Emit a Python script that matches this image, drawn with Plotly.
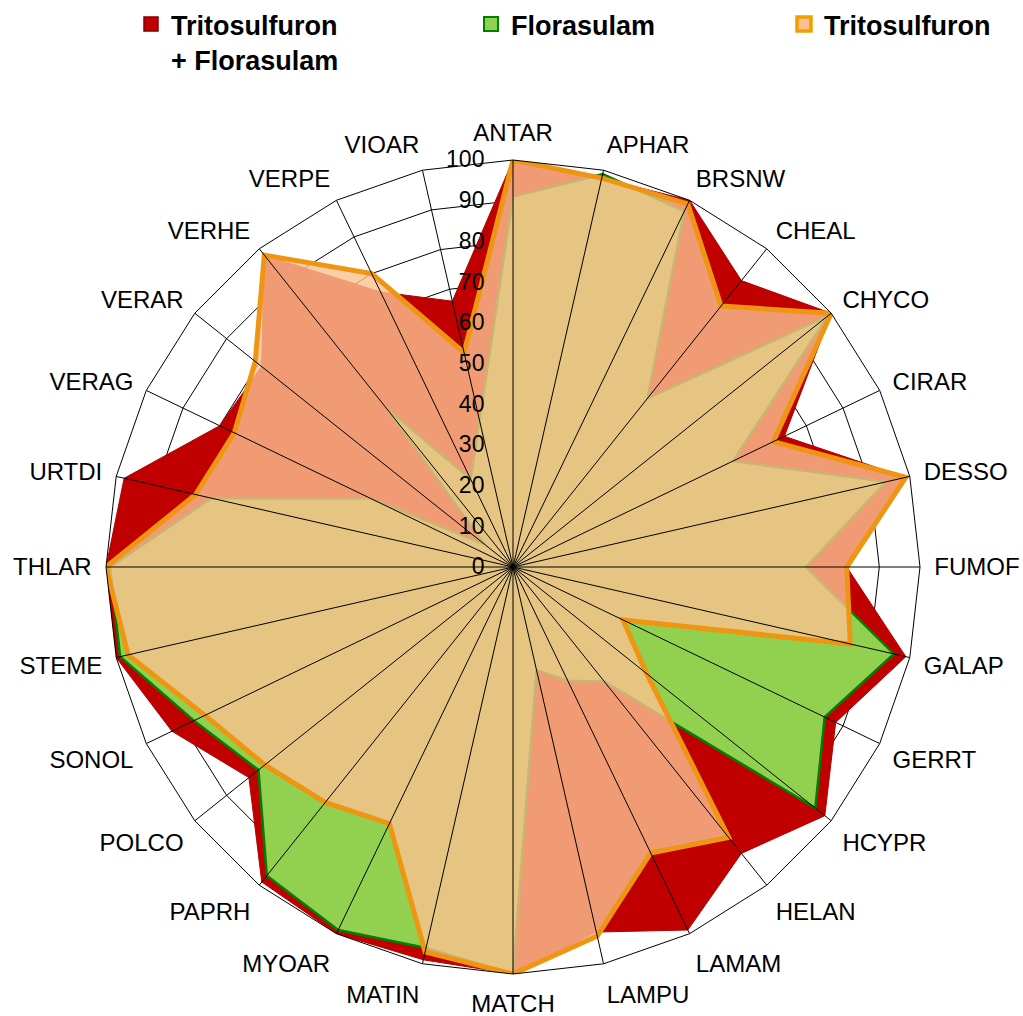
import plotly.graph_objects as go

categories = ["ANTAR", "APHAR", "BRSNW", "CHEAL", "CHYCO", "CIRAR", "DESSO", "FUMOF",
              "GALAP", "GERRT", "HCYPR", "HELAN", "LAMAM", "LAMPU", "MATCH", "MATIN",
              "MYOAR", "PAPRH", "POLCO", "SONOL", "STEME", "THLAR", "URTDI", "VERAG",
              "VERAR", "VERHE", "VERPE", "VIOAR"]

tritosulfuron_florasulam = [100, 98, 100, 90, 100, 74, 99, 82, 99, 88, 98, 90, 99, 92,
                            100, 99, 100, 99, 83, 93, 100, 100, 98, 80, 79, 98, 75, 67]
florasulam = [91, 99, 97, 53, 99, 60, 94, 72, 96, 85, 95, 36, 31, 26,
              100, 96, 99, 97, 80, 87, 99, 99, 76, 39, 9, 50, 24, 37]
tritosulfuron = [100, 98, 99, 82, 100, 71, 99, 82, 85, 30, 42, 85, 78, 93,
                 100, 97, 70, 74, 78, 84, 97, 100, 80, 76, 81, 98, 80, 54]

series_names = ["Tritosulfuron<br>+ Florasulam", "Florasulam", "Tritosulfuron"]
radial_ticks = list(range(0, 101, 10))

FONT = "Liberation Sans, Arial, sans-serif"
W, H = 1023, 1016


def closed(values):
    return list(values) + [values[0]]


theta_closed = closed(categories)

fig = go.Figure()

# filled series (drawn in order, last one semi-transparent)
fig.add_trace(go.Scatterpolar(
    r=closed(tritosulfuron_florasulam), theta=theta_closed, mode="lines",
    fill="toself", fillcolor="#C00000", line=dict(color="#B00000", width=1),
    showlegend=False, hoverinfo="skip"))
fig.add_trace(go.Scatterpolar(
    r=closed(florasulam), theta=theta_closed, mode="lines",
    fill="toself", fillcolor="#92D050", line=dict(color="#008000", width=2.5),
    showlegend=False, hoverinfo="skip"))
fig.add_trace(go.Scatterpolar(
    r=closed(tritosulfuron), theta=theta_closed, mode="lines",
    fill="toself", fillcolor="rgba(251,194,144,0.8)", line=dict(color="#EE9512", width=5),
    showlegend=False, hoverinfo="skip"))

# spokes drawn above the fills
for c in categories:
    fig.add_trace(go.Scatterpolar(
        r=[radial_ticks[0], radial_ticks[-1]], theta=[c, c], mode="lines",
        line=dict(color="black", width=1), showlegend=False, hoverinfo="skip"))

# legend entries
legend_styles = [
    ("#C00000", "#800000", 1.5, "legend"),
    ("#92D050", "#008000", 2, "legend2"),
    ("#FAC090", "#F0A000", 3.5, "legend3"),
]
for name, (fc, lc, lw, lg) in zip(series_names, legend_styles):
    fig.add_trace(go.Scatterpolar(
        r=[None], theta=[None], mode="markers", name=name, legend=lg,
        marker=dict(symbol="square", size=14, color=fc, line=dict(color=lc, width=lw)),
        hoverinfo="skip"))

legend_common = dict(
    xref="container", yref="container", xanchor="left", yanchor="top",
    font=dict(family=FONT, size=27, color="black", weight="bold"),
    valign="top", bgcolor="rgba(0,0,0,0)", borderwidth=0,
    itemclick=False, itemdoubleclick=False,
)
legend_top = 1 + 20 / H

fig.update_layout(
    width=W, height=H,
    paper_bgcolor="white", plot_bgcolor="white",
    margin=dict(l=106, r=103, t=160, b=42, autoexpand=False),
    polar=dict(
        bgcolor="white",
        gridshape="linear",
        domain=dict(x=[0, 1], y=[0, 1]),
        angularaxis=dict(
            type="category", categoryorder="array", categoryarray=categories,
            rotation=90, direction="clockwise",
            showgrid=False, showline=True, linecolor="black", linewidth=1,
            ticks="outside", ticklen=9, tickcolor="rgba(0,0,0,0)",
            tickfont=dict(family=FONT, size=24, color="black"),
        ),
        radialaxis=dict(
            range=[radial_ticks[0], radial_ticks[-1]], tickvals=radial_ticks,
            showgrid=True, gridcolor="black", gridwidth=1,
            showline=False, ticks="outside", ticklen=20, tickcolor="rgba(0,0,0,0)",
            angle=90, side="counterclockwise", tickangle=90,
            tickfont=dict(family=FONT, size=23, color="black"),
            layer="above traces",
        ),
    ),
    legend=dict(x=131 / W, y=legend_top, **legend_common),
    legend2=dict(x=471 / W, y=legend_top, **legend_common),
    legend3=dict(x=784 / W, y=legend_top, **legend_common),
)

fig.write_html(
    "out.html",
    config={"displayModeBar": False},
    post_script="document.body.style.margin='0';document.body.style.overflow='hidden';",
)
